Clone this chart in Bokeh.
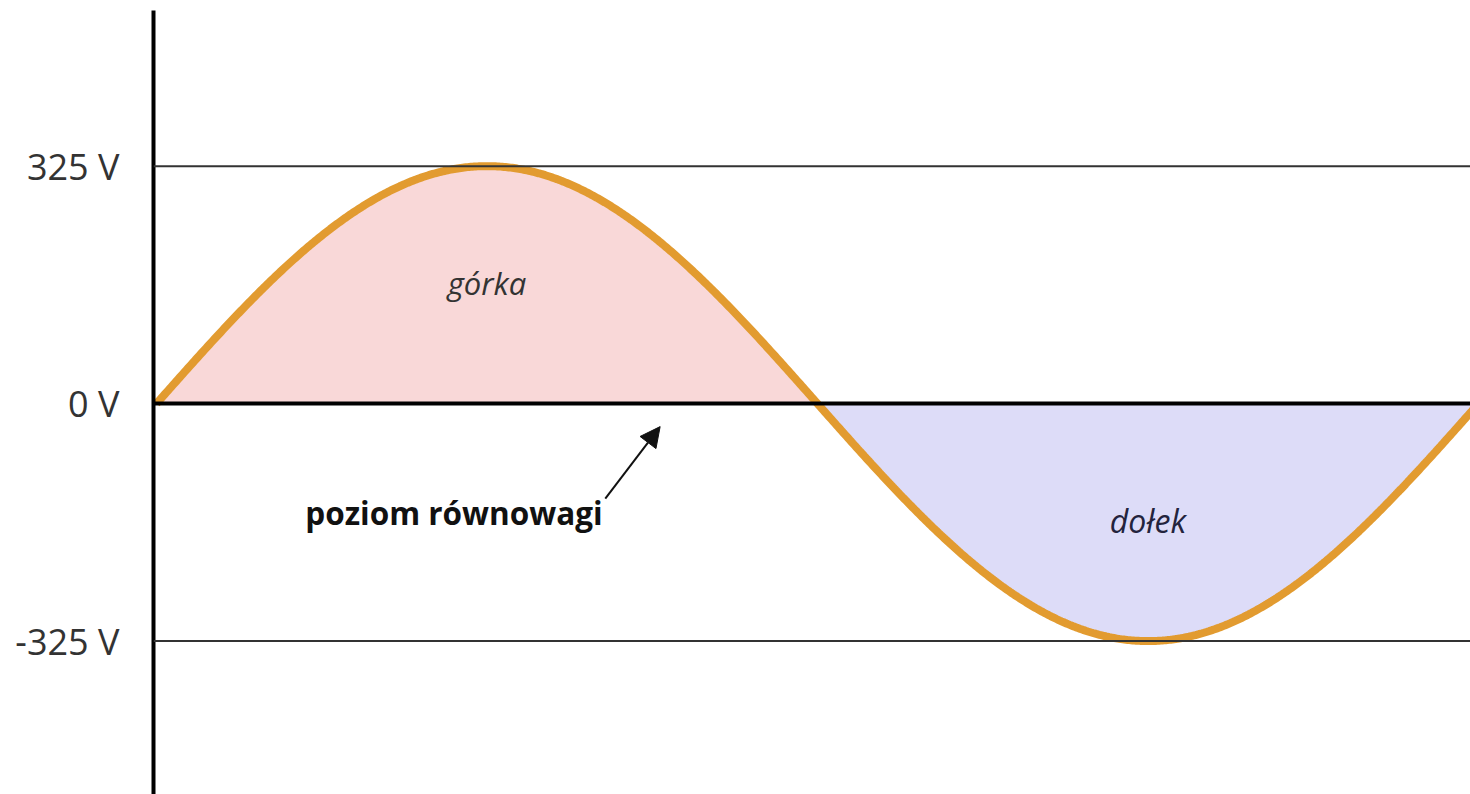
import numpy as np
from bokeh.plotting import figure
from bokeh.models import FixedTicker, Span, Arrow, NormalHead, Label
from bokeh.embed import file_html
from bokeh.resources import INLINE

# --- data ---
amplitude_v = 325            # peak voltage
period_ms = 20               # one full period (50 Hz)
tick_values = [-325, 0, 325]
tick_labels = ["-325 V", "0 V", "325 V"]
hill_label = "górka"
valley_label = "dołek"
equilibrium_label = "poziom równowagi"

t = np.linspace(0, period_ms, 800)
v = amplitude_v * np.sin(2 * np.pi * t / period_ms)

p = figure(width=1470, height=794, output_backend="svg", toolbar_location=None,
           x_range=(-0.045, 19.88), y_range=(-535, 538),
           x_axis_location=None, min_border_left=153, min_border_right=0,
           min_border_top=10, min_border_bottom=0)
p.outline_line_color = None
p.xgrid.visible = False
p.ygrid.visible = False
p.background_fill_color = "white"
p.border_fill_color = "white"

# fills
p.varea(x=t, y1=0, y2=np.maximum(v, 0), fill_color="#F9D8D8")
p.varea(x=t, y1=0, y2=np.minimum(v, 0), fill_color="#DDDCF8")

# reference lines
for tv in tick_values:
    if tv == 0:
        p.add_layout(Span(location=tv, dimension="width", line_color="black", line_width=4))
    else:
        p.add_layout(Span(location=tv, dimension="width", line_color="#333333", line_width=2))

# curve
p.line(t, v, line_color="#E29B30", line_width=8)

# y axis
yax = p.yaxis[0]
yax.ticker = FixedTicker(ticks=tick_values)
yax.major_label_overrides = {tv: lab for tv, lab in zip(tick_values, tick_labels)}
yax.axis_line_width = 4
yax.axis_line_color = "black"
yax.major_tick_line_color = None
yax.minor_tick_line_color = None
yax.major_tick_out = 0
yax.major_tick_in = 0
yax.major_label_standoff = 34
yax.major_label_text_font = "Open Sans"
yax.major_label_text_font_size = "36px"
yax.major_label_text_color = "#333333"

# labels
p.add_layout(Label(x=5.0, y=165, text=hill_label, text_align="center",
                   text_baseline="alphabetic", text_font="Open Sans",
                   text_font_style="italic", text_font_size="31px", text_color="#333333"))
p.add_layout(Label(x=15.0, y=-160, text=valley_label, text_align="center",
                   text_baseline="alphabetic", text_font="Open Sans",
                   text_font_style="italic", text_font_size="32px", text_color="#23233d"))
p.add_layout(Label(x=6.75, y=-149, text=equilibrium_label, text_align="right",
                   text_baseline="alphabetic", text_font="Open Sans",
                   text_font_style="bold", text_font_size="31.5px", text_color="#111111"))

# arrow
p.add_layout(Arrow(x_start=6.79, y_start=-130, x_end=7.62, y_end=-31.5,
                   line_color="#111111", line_width=2,
                   end=NormalHead(size=20, fill_color="#111111", line_color="#111111")))

open("out.html", "w").write(file_html(p, INLINE))
